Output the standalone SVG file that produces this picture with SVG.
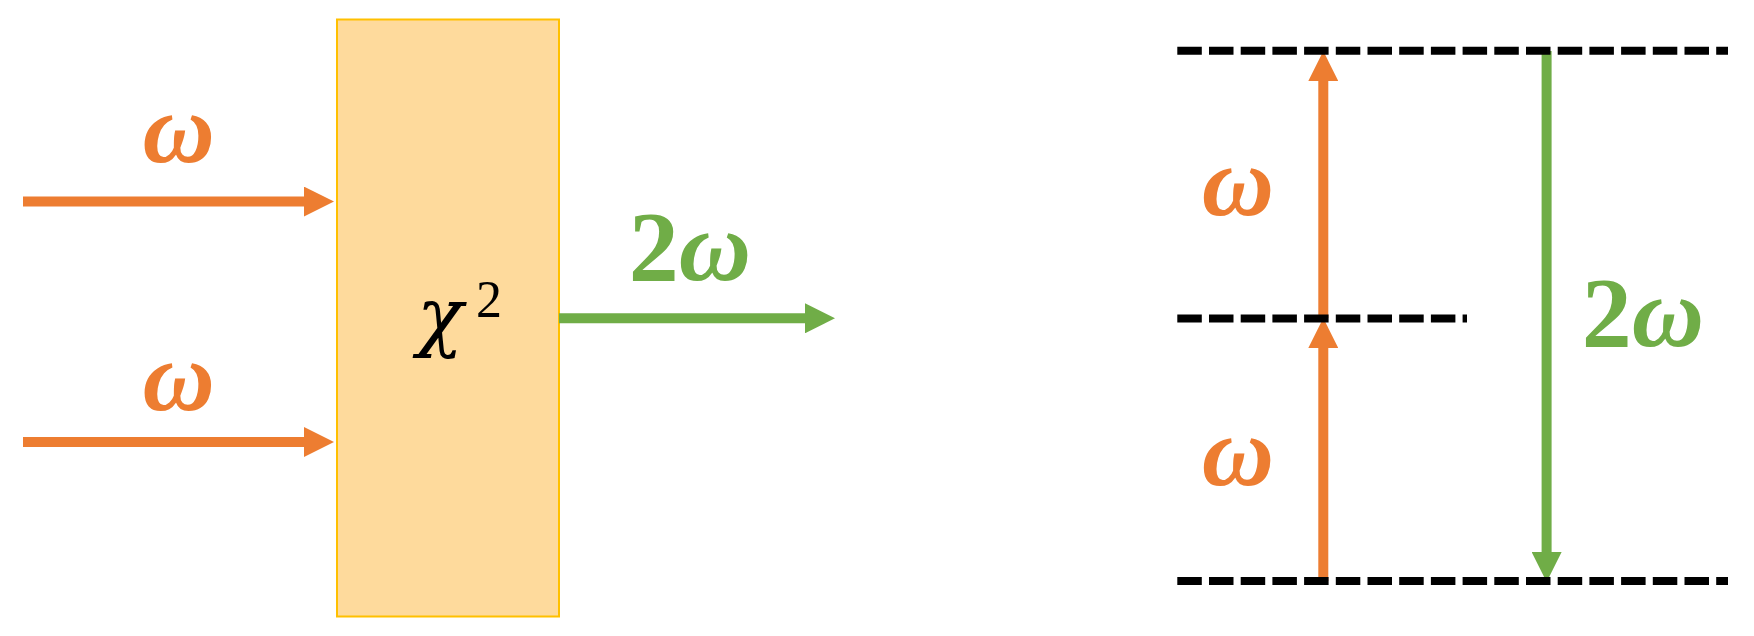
<svg xmlns="http://www.w3.org/2000/svg" width="1754" height="636" viewBox="0 0 1754 636">
<style>
.om{font-family:"Liberation Serif","DejaVu Serif",serif;font-style:italic;font-weight:bold;font-size:100px;text-anchor:middle}
.or{fill:#ED7D31}
.gr{fill:#70AD47}
.two{font-family:"Liberation Serif","DejaVu Serif",serif;font-weight:bold;font-size:100px}
.om2{font-family:"Liberation Serif","DejaVu Serif",serif;font-style:italic;font-weight:bold;font-size:100px}
.ol{stroke:#ED7D31;stroke-width:10;fill:none}
.gl{stroke:#70AD47;stroke-width:10;fill:none}
.dash{stroke:#000;stroke-width:8;stroke-dasharray:24.5 7.2;fill:none}
</style>
<defs>
<marker id="ao" markerUnits="userSpaceOnUse" markerWidth="30" markerHeight="30" refX="0" refY="15" orient="auto" viewBox="0 0 30 30"><path d="M0,0 L30,15 L0,30 z" fill="#ED7D31"/></marker>
<marker id="ag" markerUnits="userSpaceOnUse" markerWidth="30" markerHeight="30" refX="0" refY="15" orient="auto" viewBox="0 0 30 30"><path d="M0,0 L30,15 L0,30 z" fill="#70AD47"/></marker>
</defs>
<g id="chi2-box">
<rect x="337" y="19.5" width="222" height="597" fill="#FEDA9C" stroke="#FFC000" stroke-width="2"/>
<text x="417" y="342" font-family="DejaVu Serif, Liberation Serif, serif" font-style="italic" font-size="76" fill="#000">χ</text>
<text x="476" y="317" font-family="Liberation Serif, DejaVu Serif, serif" font-size="52" fill="#000">2</text>
</g>
<g id="connectors">
<line class="ol" x1="23" y1="201.6" x2="304" y2="201.6" marker-end="url(#ao)"/>
<line class="ol" x1="23" y1="442" x2="304" y2="442" marker-end="url(#ao)"/>
<line class="gl" x1="559" y1="318.3" x2="805" y2="318.3" marker-end="url(#ag)"/>
<line class="ol" x1="1323.3" y1="581" x2="1323.3" y2="348" marker-end="url(#ao)"/>
<line class="ol" x1="1323.3" y1="318" x2="1323.3" y2="81" marker-end="url(#ao)"/>
<line class="gl" x1="1546.6" y1="51" x2="1546.6" y2="552" marker-end="url(#ag)"/>
</g>
<g id="levels">
<line class="dash" x1="1177.3" y1="50.7" x2="1728" y2="50.7"/>
<line class="dash" x1="1177.3" y1="318.5" x2="1467" y2="318.5"/>
<line class="dash" x1="1177.3" y1="581" x2="1728" y2="581"/>
</g>
<g id="labels">
<text class="om or" x="178.6" y="162">ω</text>
<text class="om or" x="178.6" y="410">ω</text>
<text class="gr" x="690" y="280" text-anchor="middle"><tspan class="two">2</tspan><tspan class="om2">ω</tspan></text>
<text class="om or" x="1238" y="215">ω</text>
<text class="om or" x="1238" y="485">ω</text>
<text class="gr" x="1643" y="346" text-anchor="middle"><tspan class="two">2</tspan><tspan class="om2">ω</tspan></text>
</g>
</svg>
